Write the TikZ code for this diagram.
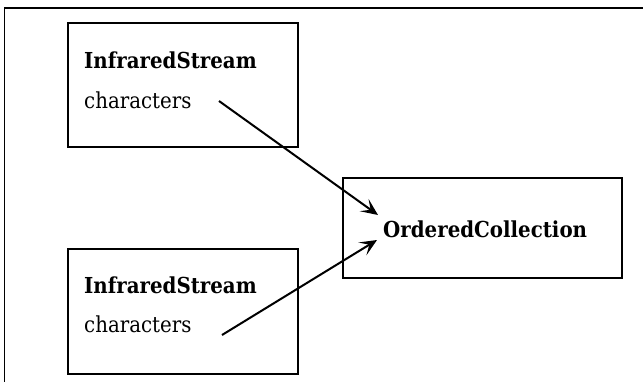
\documentclass[tikz,border=0pt]{standalone}
\usepackage{fontspec}
\setmainfont{DejaVu Serif}[FakeStretch=0.9]
\usetikzlibrary{arrows.meta}
\begin{document}
\begin{tikzpicture}[x=1pt,y=-1pt,
  box/.style={draw, line width=2.2pt, inner sep=0pt, anchor=north west},
  label/.style={anchor=base west, inner sep=0pt, font=\fontsize{22}{26}\selectfont},
  title/.style={label, font=\fontsize{22}{26}\selectfont\bfseries},
  link/.style={line width=2pt, -{Stealth[length=17pt,width=15pt,inset=8pt]}}]
\useasboundingbox (0,0) rectangle (643,381);
% outer frame
\draw[line width=1.3pt] (4.5,400) -- (4.5,8) -- (660,8);
% boxes
\node[box, minimum width=230pt, minimum height=124pt] (src1) at (67,22) {};
\node[box, minimum width=230pt, minimum height=125pt] (src2) at (67,248) {};
\node[box, minimum width=279pt, minimum height=100pt] (dst) at (342,177) {};
% texts
\node[title] (n1) at (84,68) {InfraredStream};
\node[label] (c1) at (84,108) {characters};
\node[title] (n2) at (84,293) {InfraredStream};
\node[label] (c2) at (84,332) {characters};
\node[title] (oc) at (383,237) {OrderedCollection};
% connectors
\coordinate (a1) at (219,101);
\coordinate (a2) at (222,335);
\coordinate (e1) at (378,215);
\coordinate (e2) at (377,240);
\draw[link] (a1) -- (e1);
\draw[link] (a2) -- (e2);
\end{tikzpicture}
\end{document}
